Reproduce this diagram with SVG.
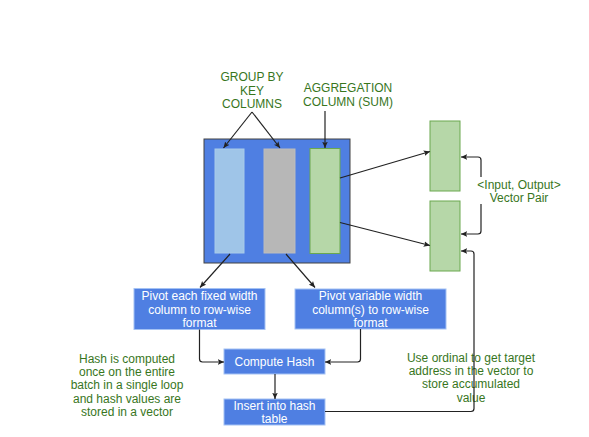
<svg xmlns="http://www.w3.org/2000/svg" width="589" height="437" viewBox="0 0 589 437">
<style>
.lbl{font-family:"Liberation Sans",Arial,sans-serif;font-size:12px;fill:#38761d;text-anchor:middle}
.wt{font-family:"Liberation Sans",Arial,sans-serif;font-size:12px;fill:#ffffff;text-anchor:middle}
.box{fill:#4f7fe2;stroke:#a4c2f4;stroke-width:1}
.vec{fill:#b6d7a8;stroke:#6aa84f;stroke-width:1}
.con{fill:none;stroke:#222;stroke-width:1.2}
</style>
<defs>
<marker id="ah" viewBox="0 0 10 10" refX="9" refY="5" markerWidth="7" markerHeight="7" orient="auto" markerUnits="userSpaceOnUse">
<path d="M0,1 L9,5 L0,9 L2,5 Z" fill="#222"/>
</marker>
</defs>
<rect width="589" height="437" fill="#ffffff"/>
<g id="table">
<rect x="204" y="139" width="146" height="124" fill="#4f7fe2" stroke="#434343" stroke-width="1"/>
<rect x="215" y="149" width="29" height="104" fill="#9fc5e8" stroke="#a9cbe9"/>
<rect x="264" y="149" width="31" height="104" fill="#b7b7b7" stroke="#bcbcbc"/>
<rect x="310" y="148.5" width="30" height="105" class="vec"/>
</g>
<g id="label-groupby">
<text class="lbl" x="252" y="81">GROUP BY</text>
<text class="lbl" x="252" y="95">KEY</text>
<text class="lbl" x="252" y="108">COLUMNS</text>
</g>
<g id="label-agg">
<text class="lbl" x="348" y="92">AGGREGATION</text>
<text class="lbl" x="348" y="106">COLUMN (SUM)</text>
</g>
<g id="vec-input"><rect x="430" y="121" width="30" height="70" class="vec"/></g>
<g id="vec-output"><rect x="430" y="201" width="30" height="70" class="vec"/></g>
<g id="label-pair">
<text class="lbl" x="519" y="189">&lt;Input, Output&gt;</text>
<text class="lbl" x="519" y="202">Vector Pair</text>
</g>
<g id="pivot-fixed">
<rect x="134" y="288.5" width="131" height="41" class="box"/>
<text class="wt" x="199.5" y="300">Pivot each fixed width</text>
<text class="wt" x="199.5" y="313.5">column to row-wise</text>
<text class="wt" x="199.5" y="327">format</text>
</g>
<g id="pivot-var">
<rect x="295" y="289" width="151" height="40" class="box"/>
<text class="wt" x="370.5" y="300">Pivot variable width</text>
<text class="wt" x="370.5" y="313.5">column(s) to row-wise</text>
<text class="wt" x="370.5" y="327">format</text>
</g>
<g id="compute-hash">
<rect x="224" y="349" width="101" height="25" class="box"/>
<text class="wt" x="274.5" y="366">Compute Hash</text>
</g>
<g id="insert">
<rect x="224" y="399" width="101" height="26" class="box"/>
<text class="wt" x="274.5" y="409.5">Insert into hash</text>
<text class="wt" x="274.5" y="422.5">table</text>
</g>
<g id="note-hash">
<text class="lbl" x="127" y="362.5">Hash is computed</text>
<text class="lbl" x="127" y="376">once on the entire</text>
<text class="lbl" x="127" y="389">batch in a single loop</text>
<text class="lbl" x="127" y="402.5">and hash values are</text>
<text class="lbl" x="127" y="416">stored in a vector</text>
</g>
<g id="note-ordinal">
<text class="lbl" x="471" y="361.5">Use ordinal to get target</text>
<text class="lbl" x="471" y="375">address in the vector to</text>
<text class="lbl" x="471" y="388">store accumulated</text>
<text class="lbl" x="471" y="401.5">value</text>
</g>
<g id="connectors">
<path class="con" d="M252,112 L223.5,148" marker-end="url(#ah)"/>
<path class="con" d="M252,112 L280,148" marker-end="url(#ah)"/>
<path class="con" d="M325,111 L325,148" marker-end="url(#ah)"/>
<path class="con" d="M340,178 L430,151.5" marker-end="url(#ah)"/>
<path class="con" d="M340,222.5 L430,245.5" marker-end="url(#ah)"/>
<path class="con" d="M481,177 V160 Q481,157 478,157 H461" marker-end="url(#ah)"/>
<path class="con" d="M481,204 V231 Q481,234 478,234 H461" marker-end="url(#ah)"/>
<path class="con" d="M230,254 L200,287.5" marker-end="url(#ah)"/>
<path class="con" d="M286,254 L315,287.5" marker-end="url(#ah)"/>
<path class="con" d="M199.5,329.5 V359 Q199.5,362 202.5,362 H224" marker-end="url(#ah)"/>
<path class="con" d="M360.5,329 V359 Q360.5,362 357.5,362 H325" marker-end="url(#ah)"/>
<path class="con" d="M275,374 V399" marker-end="url(#ah)"/>
<path class="con" d="M325,411.5 H471 Q474,411.5 474,408.5 V254 Q474,251 471,251 H461" marker-end="url(#ah)"/>
</g>
</svg>
